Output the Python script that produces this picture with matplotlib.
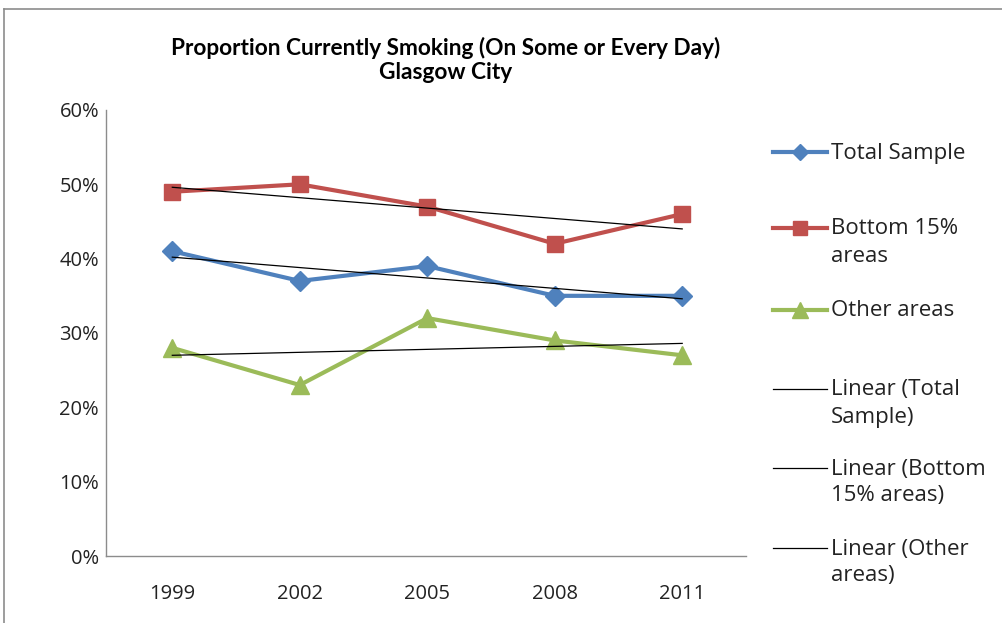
import numpy as np
import matplotlib.pyplot as plt
from matplotlib.lines import Line2D

plt.rcParams['font.family'] = ['Open Sans', 'DejaVu Sans']

# dados
years = ['1999', '2002', '2005', '2008', '2011']
total = [41, 37, 39, 35, 35]
bottom = [49, 50, 47, 42, 46]
other = [28, 23, 32, 29, 27]

blue = '#4F81BD'
red = '#C0504D'
green = '#9BBB59'

fig = plt.figure(figsize=(10.03, 6.23), dpi=100)
ax = fig.add_axes([0.1057, 0.1075, 0.638, 0.716])

x = np.arange(len(years))
ax.plot(x, total, color=blue, lw=3, marker='D', ms=10)
ax.plot(x, bottom, color=red, lw=3, marker='s', ms=12)
ax.plot(x, other, color=green, lw=3, marker='^', ms=13)

# linhas de tendencia (regressao linear)
for s in (total, bottom, other):
    k, b = np.polyfit(x, s, 1)
    ax.plot(x, k * x + b, color='black', lw=0.9)

ax.set_xlim(-0.52, 4.5)
ax.set_ylim(0, 60)
ax.set_xticks(x)
ax.set_xticklabels(years)
ax.set_yticks(np.arange(0, 61, 10))
ax.set_yticklabels([f'{v}%' for v in range(0, 61, 10)])
ax.tick_params(length=0, labelsize=14.5, colors='#222222')
ax.tick_params(axis='x', pad=20)
ax.tick_params(axis='y', pad=5)
for side in ('top', 'right'):
    ax.spines[side].set_visible(False)
for side in ('left', 'bottom'):
    ax.spines[side].set_color('#8c8c8c')
    ax.spines[side].set_linewidth(1)

fig.text(446 / 1003, 1 - 60 / 623, 'Proportion Currently Smoking (On Some or Every Day)\nGlasgow City',
         ha='center', va='center', fontsize=16.3, fontweight='bold', linespacing=1.2,
         family=['Lato', 'DejaVu Sans'])

# legenda
W, H = 1003, 623
entries = [
    (152, ['Total Sample'], blue, 'D', 8),
    (228, ['Bottom 15%', 'areas'], red, 's', 10),
    (310, ['Other areas'], green, '^', 11),
    (389, ['Linear (Total', 'Sample)'], 'black', None, 0),
    (468, ['Linear (Bottom', '15% areas)'], 'black', None, 0),
    (548, ['Linear (Other', 'areas)'], 'black', None, 0),
]
for yp, lines, col, mk, ms in entries:
    yf = 1 - yp / H
    lw = 3 if mk else 0.9
    fig.add_artist(Line2D([773 / W, 827 / W], [yf, yf], color=col, lw=lw))
    if mk:
        fig.add_artist(Line2D([800 / W], [yf], color=col, marker=mk, ms=ms, lw=0))
    for i, txt in enumerate(lines):
        fig.text(831 / W, 1 - (yp + 1 + i * 27) / H, txt, ha='left', va='center',
                 fontsize=16, color='#222222')

# moldura
fig.add_artist(Line2D([4 / W, 4 / W], [0, 1 - 9 / H], color='#8c8c8c', lw=1.2))
fig.add_artist(Line2D([4 / W, 1], [1 - 9 / H, 1 - 9 / H], color='#8c8c8c', lw=1.2))

fig.savefig('out.png', dpi=100)
